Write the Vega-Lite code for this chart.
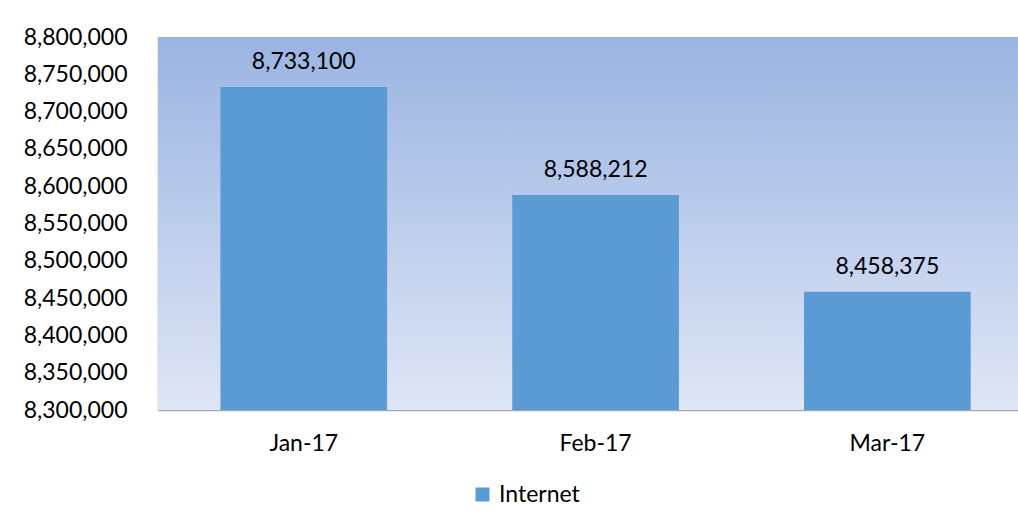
{
  "$schema": "https://vega.github.io/schema/vega-lite/v6.json",
  "autosize": {"type": "none"},
  "padding": {"left": 158, "top": 37, "right": 0, "bottom": 115},
  "width": 860,
  "height": 373,
  "background": "white",
  "config": {
    "view": {"stroke": null},
    "font": "Lato",
    "axis": {"labelFont": "Lato", "labelFontSize": 23, "labelColor": "#000000", "domainColor": "#a6a6a6", "domainWidth": 1.5, "ticks": false, "grid": false, "title": null}
  },
  "data": {
    "values": [
      {"month": "Jan-17", "value": 8733100, "series": "Internet"},
      {"month": "Feb-17", "value": 8588212, "series": "Internet"},
      {"month": "Mar-17", "value": 8458375, "series": "Internet"}
    ]
  },
  "layer": [
    {
      "mark": {
        "type": "rect",
        "color": {
          "x1": 0, "y1": 0, "x2": 0, "y2": 1,
          "gradient": "linear",
          "stops": [
            {"offset": 0, "color": "#9ab4e2"},
            {"offset": 1, "color": "#dfe6f5"}
          ]
        }
      },
      "encoding": {
        "y": {
          "datum": 8800000, "type": "quantitative",
          "scale": {"domain": [8300000, 8800000], "zero": false, "nice": false},
          "axis": {
            "tickCount": 10, "tickMinStep": 50000,
            "format": ",d", "labelPadding": 31, "title": null,
            "labelOverlap": false, "labelBound": false, "labelFlush": false
          }
        },
        "y2": {"datum": 8300000}
      }
    },
    {
      "mark": {"type": "bar", "clip": true},
      "encoding": {
        "x": {
          "field": "month", "type": "nominal", "sort": null,
          "scale": {"paddingInner": 0.4287, "paddingOuter": 0.188, "align": 0.569},
          "axis": {"labelAngle": 0, "labelPadding": 22, "title": null}
        },
        "y": {
          "field": "value", "type": "quantitative",
          "scale": {"domain": [8300000, 8800000], "zero": false, "nice": false}
        },
        "color": {
          "field": "series", "type": "nominal",
          "scale": {"range": ["#5b9bd5"]},
          "legend": {
            "orient": "none", "legendX": 313, "legendY": 446, "title": null,
            "symbolType": "square", "symbolSize": 196, "symbolStrokeWidth": 0,
            "labelFont": "Lato", "labelFontSize": 23, "labelColor": "#000000", "labelOffset": 5
          }
        }
      }
    },
    {
      "mark": {"type": "text", "fontSize": 23, "font": "Lato", "color": "#000000", "baseline": "alphabetic", "dy": -18},
      "encoding": {
        "x": {"field": "month", "type": "nominal", "sort": null},
        "y": {"field": "value", "type": "quantitative"},
        "text": {"field": "value", "type": "quantitative", "format": ",d"}
      }
    }
  ]
}
